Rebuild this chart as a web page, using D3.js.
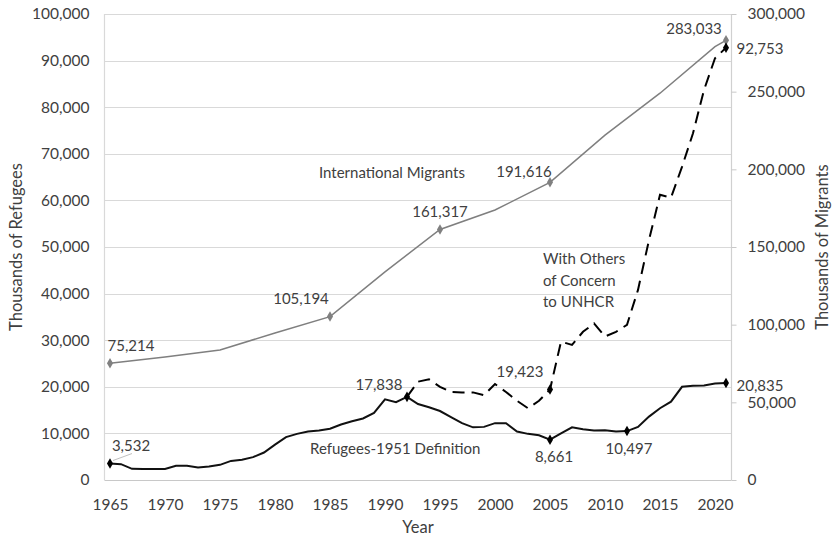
<!DOCTYPE html>
<html><head><meta charset="utf-8">
<script src="https://cdn.jsdelivr.net/npm/d3@7"></script>
<style>body{margin:0;background:#fff}svg{display:block}text{font-family:Lato,"Open Sans",sans-serif;fill:#404040}</style>
</head><body><svg id="c" width="834" height="541"></svg>
<script>
const yearTicks=[1965,1970,1975,1980,1985,1990,1995,2000,2005,2010,2015,2020];
const leftTicks=[0,10000,20000,30000,40000,50000,60000,70000,80000,90000,100000];
const rightTicks=[0,50000,100000,150000,200000,250000,300000];
const refYears=d3.range(1965,2022);
const refugees=[3532,3400,2400,2350,2350,2350,3050,3050,2700,2900,3250,4100,4350,4900,5900,7600,9200,9900,10400,10600,11000,11900,12600,13200,14400,17300,16700,17838,16300,15600,14800,13500,12200,11300,11400,12200,12200,10400,9900,9600,8661,10000,11300,10900,10600,10700,10400,10497,11400,13600,15400,16800,20000,20200,20300,20700,20835];
const othersYears=d3.range(1992,2022);
const others=[17838,21100,21600,20000,18900,18800,18800,18200,20600,18900,17000,15400,17000,19423,29700,29000,31800,33600,30800,31800,33300,40800,51500,61200,60600,67200,74400,83700,90500,92753];
const migYears=[1965,1970,1975,1980,1985,1990,1995,2000,2005,2010,2015,2020,2021];
const migrants=[75214,79200,83700,94600,105194,134000,161317,173800,191616,222000,249000,279000,283033];
const migMarked=[1965,1985,1995,2005,2021];
const refMarked=[1965,1992,2005,2012,2021];
const othMarked=[2005,2021];

const svg=d3.select("#c");
const x=d3.scaleLinear().domain([1964.5,2021.5]).range([104.5,731.5]);
const yL=d3.scaleLinear().domain([0,100000]).range([480,14]);
const yR=d3.scaleLinear().domain([0,300000]).range([480,14]);
const fmt=d3.format(",");

svg.append("g").selectAll("line").data(leftTicks.slice(1)).join("line")
 .attr("x1",104.5).attr("x2",731.5).attr("y1",d=>Math.round(yL(d))+0.5).attr("y2",d=>Math.round(yL(d))+0.5)
 .attr("stroke","#d9d9d9").attr("stroke-width",1.2);
svg.append("line").attr("x1",104.5).attr("x2",104.5).attr("y1",14).attr("y2",480).attr("stroke","#d9d9d9").attr("stroke-width",1.2);
svg.append("line").attr("x1",731.5).attr("x2",731.5).attr("y1",14).attr("y2",480).attr("stroke","#d0d0d0").attr("stroke-width",1.2);
svg.append("line").attr("x1",104.5).attr("x2",731.5).attr("y1",480.5).attr("y2",480.5).attr("stroke","#c8c8c8").attr("stroke-width",1.2);

const fs=15.5;
const gl=svg.append("g").attr("transform","translate(104.5,0)")
 .call(d3.axisLeft(yL).tickValues(leftTicks).tickSize(0).tickPadding(15).tickFormat(fmt));
gl.select(".domain").remove();
gl.selectAll("text").style("font-size",fs+"px").attr("fill","#404040");
const gr=svg.append("g").attr("transform","translate(731.5,0)")
 .call(d3.axisRight(yR).tickValues(rightTicks).tickSize(5).tickPadding(11).tickFormat(fmt));
gr.select(".domain").remove();
gr.selectAll("line").attr("stroke","#c8c8c8");
gr.selectAll("text").style("font-size",fs+"px").attr("fill","#404040");
const gb=svg.append("g").attr("transform","translate(0,480)")
 .call(d3.axisBottom(x).tickValues(yearTicks).tickSize(0).tickPadding(19).tickFormat(d3.format("d")));
gb.select(".domain").remove();
gb.selectAll("text").style("font-size",fs+"px").attr("fill","#404040");

svg.append("text").attr("transform","translate(22,247) rotate(-90)").attr("text-anchor","middle").style("font-size","16.5px").text("Thousands of Refugees");
svg.append("text").attr("transform","translate(828,247) rotate(-90)").attr("text-anchor","middle").style("font-size","16.5px").text("Thousands of Migrants");
svg.append("text").attr("x",418).attr("y",533).attr("text-anchor","middle").style("font-size","16.5px").text("Year");

const lineL=d3.line().x(d=>x(d[0])).y(d=>yL(d[1]));
const lineR=d3.line().x(d=>x(d[0])).y(d=>yR(d[1]));
const migData=migYears.map((yr,i)=>[yr,migrants[i]]);
const refData=refYears.map((yr,i)=>[yr,refugees[i]]);
const othData=othersYears.map((yr,i)=>[yr,others[i]]);
svg.append("path").datum(othData).attr("d",lineL).attr("fill","none").attr("stroke","#000").attr("stroke-width",2).attr("stroke-dasharray","12,7");
svg.append("path").datum(refData).attr("d",lineL).attr("fill","none").attr("stroke","#111").attr("stroke-width",2);
svg.append("path").datum(migData).attr("d",lineR).attr("fill","none").attr("stroke","#7f7f7f").attr("stroke-width",1.5);

const diamond=d3.symbol().type(d3.symbolDiamond).size(32);
svg.append("g").selectAll("path").data(migData.filter(d=>migMarked.includes(d[0]))).join("path")
 .attr("d",diamond).attr("transform",d=>`translate(${x(d[0])},${yR(d[1])})`).attr("fill","#808080");
svg.append("g").selectAll("path").data(refData.filter(d=>refMarked.includes(d[0]))).join("path")
 .attr("d",diamond).attr("transform",d=>`translate(${x(d[0])},${yL(d[1])})`).attr("fill","#000");
svg.append("g").selectAll("path").data(othData.filter(d=>othMarked.includes(d[0]))).join("path")
 .attr("d",diamond).attr("transform",d=>`translate(${x(d[0])},${yL(d[1])})`).attr("fill","#000");

svg.append("line").attr("x1",x(1965)+3).attr("y1",yL(3532)-3).attr("x2",x(1965)+22).attr("y2",yL(3532)-10).attr("stroke","#bfbfbf").attr("stroke-width",1);

function lab(t,xx,yy,anchor){svg.append("text").attr("x",xx).attr("y",yy).attr("dy","0.35em").attr("text-anchor",anchor||"middle").style("font-size","15px").text(t);}
function val(arr,yrs,yr){return arr[yrs.indexOf(yr)];}
lab(fmt(val(migrants,migYears,1965)),131,346);
lab(fmt(val(migrants,migYears,1985)),301,299);
lab(fmt(val(migrants,migYears,1995)),440,212);
lab(fmt(val(migrants,migYears,2005)),524,172);
lab(fmt(val(migrants,migYears,2021)),694,29);
lab(fmt(val(others,othersYears,2021)),760,49);
lab(fmt(val(refugees,refYears,2021)),760,386);
lab(fmt(val(refugees,refYears,1965)),131,446);
lab(fmt(val(refugees,refYears,1992)),379,385);
lab(fmt(val(others,othersYears,2005)),520,372);
lab(fmt(val(refugees,refYears,2005)),554,457);
lab(fmt(val(refugees,refYears,2012)),629,449);

function slab(t,xx,yy){svg.append("text").attr("x",xx).attr("y",yy).attr("dy","0.35em").style("font-size","15px").text(t);}
slab("International Migrants",319,173);
slab("Refugees-1951 Definition",310,449);
slab("With Others",543,259);
slab("of Concern",543,281);
slab("to UNHCR",543,302);
</script></body></html>
